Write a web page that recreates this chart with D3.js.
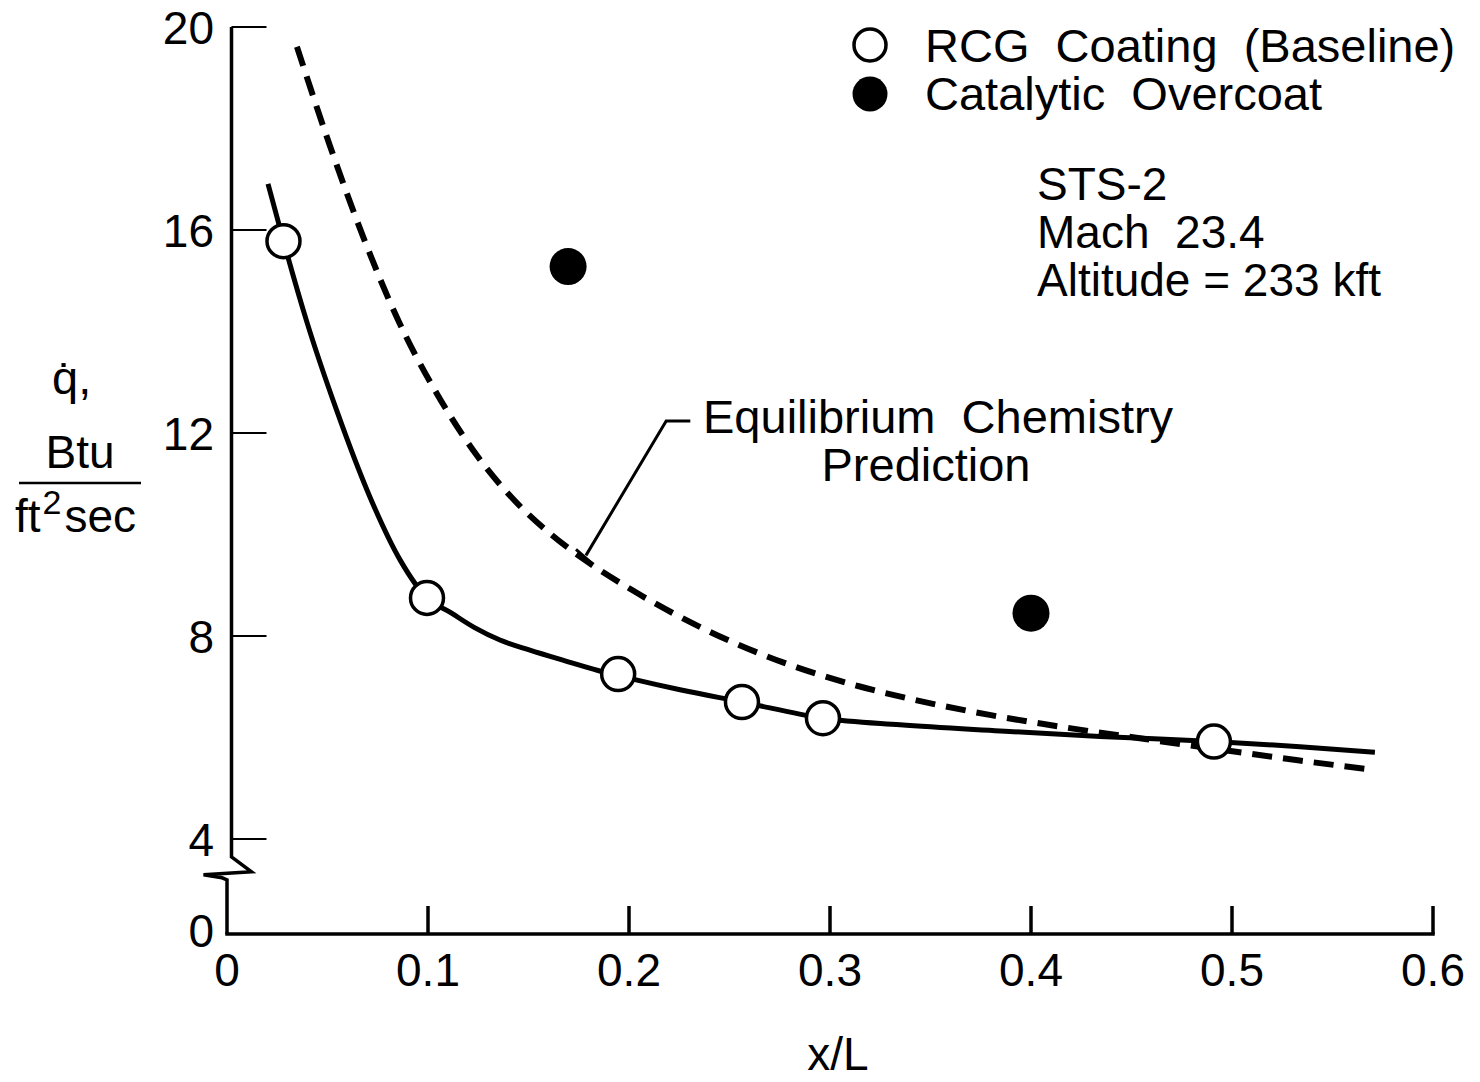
<!DOCTYPE html>
<html>
<head>
<meta charset="utf-8">
<script src="https://cdn.jsdelivr.net/npm/d3@7"></script>
<style>
  body { margin: 0; background: #fff; }
  svg text { font-family: "Liberation Sans", Arial, Helvetica, sans-serif; fill: #000; white-space: pre; }
</style>
</head>
<body>
<div id="chart"></div>
<script>
// values
const xTicks = [0, 0.1, 0.2, 0.3, 0.4, 0.5, 0.6];
const xTickLabels = ["0", "0.1", "0.2", "0.3", "0.4", "0.5", "0.6"];
const yTicks = [4, 8, 12, 16, 20];
const yTickLabels = ["4", "8", "12", "16", "20"];

// RCG coating (baseline), open circles
const rcgX = [0.0281, 0.0995, 0.1946, 0.2562, 0.2965, 0.491];
const rcgY = [15.78, 8.75, 7.25, 6.70, 6.38, 5.92];

// catalytic overcoat, filled circles
const catX = [0.1697, 0.400];
const catY = [15.28, 8.45];

// faired curve through the RCG data (solid)
const fitX = [0.0204, 0.0281, 0.0398, 0.0547, 0.0711, 0.0861, 0.0995, 0.1109, 0.1234, 0.1358, 0.1507, 0.1682, 0.1846, 0.203, 0.2254, 0.2562, 0.2965, 0.3348, 0.3846, 0.4343, 0.491, 0.5338, 0.5711];
const fitY = [16.91, 15.78, 14.18, 12.43, 10.74, 9.50, 8.75, 8.47, 8.16, 7.92, 7.72, 7.51, 7.32, 7.14, 6.94, 6.70, 6.38, 6.25, 6.13, 6.02, 5.92, 5.82, 5.71];

// equilibrium chemistry prediction (dashed)
const eqX = [0.0348, 0.0512, 0.0677, 0.0846, 0.1045, 0.1239, 0.1433, 0.1622, 0.1776, 0.2005, 0.2383, 0.2766, 0.3144, 0.3423, 0.3801, 0.4184, 0.4567, 0.4945, 0.5328, 0.5692];
const eqY = [19.61, 17.66, 15.87, 14.27, 12.77, 11.58, 10.66, 9.97, 9.51, 8.93, 8.12, 7.48, 7.01, 6.74, 6.44, 6.19, 5.97, 5.76, 5.55, 5.37];

const legendLabels = ["RCG  Coating  (Baseline)", "Catalytic  Overcoat"];
const noteLines = ["STS-2", "Mach  23.4", "Altitude = 233 kft"];
const eqLabel = ["Equilibrium  Chemistry", "Prediction"];

const width = 1480, height = 1082;
const fontSize = 46;

const svg = d3.select("#chart")
    .append("svg")
    .attr("width", width)
    .attr("height", height);

// x scale
const x = d3.scaleLinear()
    .domain([0, 0.6])
    .range([227, 1433]);

// y scale with a break between 0 and 4
const y = d3.scaleLinear()
    .domain([0, 4, 20])
    .range([934, 839, 27]);

const yAxisX = x(0) + 4.5;

// x axis line and ticks (ticks point up)
svg.append("line")
    .attr("x1", x(0)).attr("x2", x(0.6))
    .attr("y1", y(0)).attr("y2", y(0))
    .attr("stroke", "#000").attr("stroke-width", 3.5).attr("stroke-linecap", "square");

svg.selectAll(".xtick")
    .data(xTicks.slice(1))
    .join("line")
    .attr("class", "xtick")
    .attr("x1", d => x(d)).attr("x2", d => x(d))
    .attr("y1", y(0)).attr("y2", y(0) - 28)
    .attr("stroke", "#000").attr("stroke-width", 3.5);

svg.selectAll(".xlabel")
    .data(xTicks)
    .join("text")
    .attr("class", "xlabel")
    .attr("x", d => x(d))
    .attr("y", y(0) + 52)
    .attr("text-anchor", "middle")
    .attr("font-size", fontSize)
    .text((d, i) => xTickLabels[i]);

// y axis with the break zigzag
const yBreak = y(3.25);
svg.append("path")
    .attr("d", `M${yAxisX},${y(20)} L${yAxisX},${yBreak}` +
        ` L${yAxisX + 20},${yBreak + 15} L${yAxisX - 28},${yBreak + 18}` +
        ` L${x(0) - 5},${yBreak + 21} L${x(0)},${yBreak + 23} L${x(0)},${y(0)}`)
    .attr("fill", "none")
    .attr("stroke", "#000").attr("stroke-width", 3.5)
    .attr("stroke-linejoin", "miter");

svg.selectAll(".ytick")
    .data(yTicks)
    .join("line")
    .attr("class", "ytick")
    .attr("x1", yAxisX).attr("x2", yAxisX + 35)
    .attr("y1", d => y(d)).attr("y2", d => y(d))
    .attr("stroke", "#000").attr("stroke-width", 2);

svg.selectAll(".ylabel")
    .data(yTicks.concat([0]))
    .join("text")
    .attr("class", "ylabel")
    .attr("x", 214)
    .attr("y", d => d === 0 ? y(0) - 4 : y(d))
    .attr("dy", "0.36em")
    .attr("text-anchor", "end")
    .attr("font-size", fontSize)
    .text((d, i) => d === 0 ? "0" : yTickLabels[i]);

// axis titles
svg.append("text")
    .attr("x", x(0.3) + 8)
    .attr("y", 1070)
    .attr("text-anchor", "middle")
    .attr("font-size", fontSize)
    .text("x/L");

svg.append("text")
    .attr("x", 52)
    .attr("y", 394)
    .attr("font-size", 47)
    .text("q\u0307,");

svg.append("text")
    .attr("x", 80)
    .attr("y", 468)
    .attr("text-anchor", "middle")
    .attr("font-size", fontSize)
    .text("Btu");

svg.append("line")
    .attr("x1", 19).attr("x2", 141)
    .attr("y1", 483).attr("y2", 483)
    .attr("stroke", "#000").attr("stroke-width", 2.5);

const unit = svg.append("text")
    .attr("x", 15)
    .attr("y", 532)
    .attr("font-size", fontSize);
unit.append("tspan").text("ft");
unit.append("tspan").attr("font-size", 34).attr("dx", 2).attr("dy", -18).text("2");
unit.append("tspan").attr("dx", 3).attr("dy", 18).text("sec");

// curves
const fitData = fitX.map((d, i) => [d, fitY[i]]);
const eqData = eqX.map((d, i) => [d, eqY[i]]);

const line = d3.line()
    .x(d => x(d[0]))
    .y(d => y(d[1]))
    .curve(d3.curveMonotoneX);

svg.append("path")
    .datum(eqData)
    .attr("d", line)
    .attr("fill", "none")
    .attr("stroke", "#000")
    .attr("stroke-width", 6)
    .attr("stroke-dasharray", "20,11");

svg.append("path")
    .datum(fitData)
    .attr("d", line)
    .attr("fill", "none")
    .attr("stroke", "#000")
    .attr("stroke-width", 5)
    .attr("stroke-linecap", "butt");

// leader for the prediction label
const leadX = 0.1776, leadY = 9.51;
svg.append("path")
    .attr("d", `M${x(leadX) + 2},${y(leadY) - 4} L${x(0.2185)},${421} L${x(0.2305)},${421}`)
    .attr("fill", "none")
    .attr("stroke", "#000").attr("stroke-width", 3);

svg.append("line")
    .attr("x1", x(leadX) - 8).attr("y1", y(leadY) - 10)
    .attr("x2", x(leadX) + 8).attr("y2", y(leadY) + 4)
    .attr("stroke", "#000").attr("stroke-width", 3);

// data points
svg.selectAll(".rcg")
    .data(rcgX)
    .join("circle")
    .attr("class", "rcg")
    .attr("cx", d => x(d))
    .attr("cy", (d, i) => y(rcgY[i]))
    .attr("r", 16.5)
    .attr("fill", "#fff")
    .attr("stroke", "#000")
    .attr("stroke-width", 3.5);

svg.selectAll(".cat")
    .data(catX)
    .join("circle")
    .attr("class", "cat")
    .attr("cx", d => x(d))
    .attr("cy", (d, i) => y(catY[i]))
    .attr("r", 18.5)
    .attr("fill", "#000");

// legend
svg.append("circle")
    .attr("cx", 870).attr("cy", 45).attr("r", 16)
    .attr("fill", "#fff").attr("stroke", "#000").attr("stroke-width", 3.5);
svg.append("circle")
    .attr("cx", 870).attr("cy", 94).attr("r", 17.5)
    .attr("fill", "#000");

svg.selectAll(".legend")
    .data(legendLabels)
    .join("text")
    .attr("class", "legend")
    .attr("x", 925)
    .attr("y", (d, i) => 62 + i * 48)
    .attr("font-size", 47)
    .text(d => d);

// flight conditions note
svg.selectAll(".note")
    .data(noteLines)
    .join("text")
    .attr("class", "note")
    .attr("x", 1037)
    .attr("y", (d, i) => 200 + i * 48)
    .attr("font-size", 46)
    .text(d => d);

// prediction label
svg.append("text")
    .attr("x", 703).attr("y", 433)
    .attr("font-size", 47)
    .text(eqLabel[0]);
svg.append("text")
    .attr("x", 926).attr("y", 481)
    .attr("text-anchor", "middle")
    .attr("font-size", 47)
    .text(eqLabel[1]);
</script>
</body>
</html>
